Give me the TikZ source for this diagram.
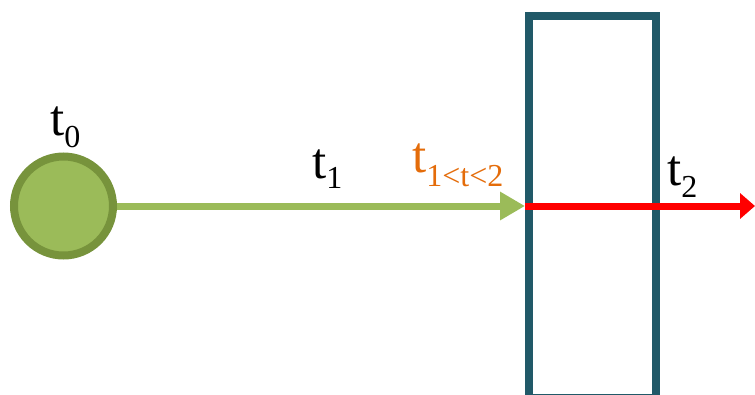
\documentclass[tikz,border=0pt]{standalone}
\usepackage{fontspec}
\setmainfont{Liberation Serif}
\usetikzlibrary{arrows.meta}
\definecolor{leaf}{HTML}{9BBB59}
\definecolor{leafdark}{HTML}{77933C}
\definecolor{boxteal}{HTML}{215968}
\definecolor{orng}{HTML}{E46C0A}
\newcommand\sbx[2][12pt]{\raisebox{-#1}{\fontsize{32}{32}\selectfont #2}}
\begin{document}
\begin{tikzpicture}[x=1pt,y=-1pt,
  lbl/.style={anchor=base west, inner sep=0pt, font=\fontsize{51}{51}\selectfont},
  ball/.style={circle, draw=leafdark, fill=leaf, line width=8pt, minimum size=99pt, inner sep=0pt},
  barrier/.style={draw=boxteal, line width=8pt, minimum width=127pt, minimum height=382pt, inner sep=0pt},
  greenarrow/.style={draw=leaf, line width=7pt, -{Triangle[length=25pt,width=27pt]}},
  redarrow/.style={draw=red, line width=7pt, -{Triangle[length=15pt,width=25pt]}}]
\useasboundingbox (0,0) rectangle (755,394);
\clip (0,0) rectangle (755,394);
\node[barrier] (box) at (592.5,207) {};
\node[ball] (c0) at (63.5,206) {};
\coordinate (end) at (755,206);
\draw[greenarrow] (c0.east) -- (box.west |- c0.center);
\draw[redarrow] (box.west |- c0.center) -- (end);
\node[lbl] (l0) at (50,135) {t\sbx{0}};
\node[lbl] (l1) at (312,178) {t\sbx[10pt]{1}};
\node[lbl, text=orng] (l12) at (412,172) {t\sbx[14pt]{1<t<2}};
\node[lbl] (l2) at (667,185) {t\sbx{2}};
\end{tikzpicture}
\end{document}
